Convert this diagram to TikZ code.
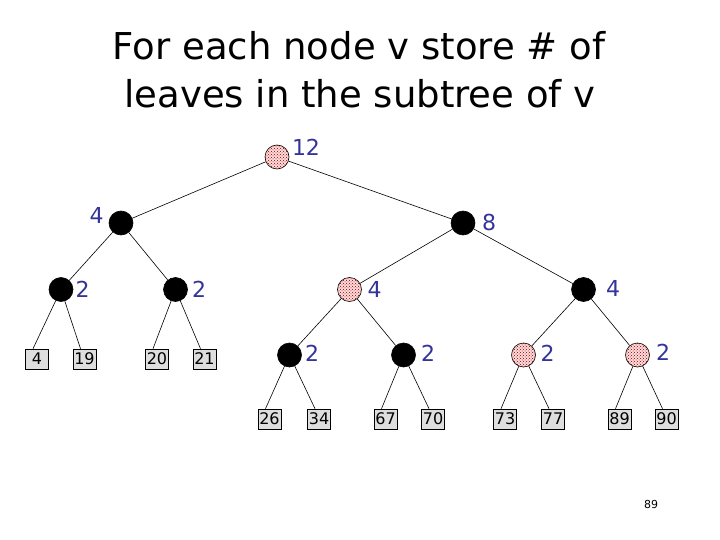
\documentclass[tikz,border=0pt]{standalone}
\usepackage{fontspec}
\setmainfont{DejaVu Sans}
\usetikzlibrary{patterns}
\definecolor{cntblue}{RGB}{51,51,153}

\begin{document}
\begin{tikzpicture}[x=1pt, y=-1pt, line width=0.6pt,
    inner/.style={circle, draw=black, fill=black, minimum size=24pt, inner sep=0pt},
    marked/.style={circle, draw=black, fill=red!14, pattern color=red!55!black,
      postaction={pattern=crosshatch dots}, minimum size=24pt, inner sep=0pt},
    leaf/.style={draw=black, fill=black!13, minimum width=23pt, minimum height=20pt,
      inner sep=0pt, font=\fontsize{16}{16}\selectfont},
    cnt/.style={text=cntblue, inner sep=0pt, font=\fontsize{22}{22}\selectfont},
    headline/.style={anchor=base, inner sep=0pt, font=\fontsize{37}{37}\selectfont},
  ]
  \useasboundingbox (0,0) rectangle (720,540);

  % title, two lines
  \node[headline] (title1) at (359,60) {For each node v store \# of};
  \node[headline] (title2) at (360,108) {leaves in the subtree of v};

  % internal nodes, top down
  \node[marked] (r) at (277,157) {};
  \node[inner] (a) at (121,223) {};
  \node[inner] (b) at (463,223) {};
  \node[inner] (aa) at (61,289.5) {};
  \node[inner] (ab) at (175.5,289.5) {};
  \node[marked] (ba) at (349.5,289.5) {};
  \node[inner] (bb) at (583.5,289.5) {};
  \node[inner] (baa) at (289.5,355) {};
  \node[inner] (bab) at (403.5,355) {};
  \node[marked] (bba) at (523.5,355) {};
  \node[marked] (bbb) at (637.5,355) {};

  % leaf counts
  \node[cnt] (nr) at (306,147) {12};
  \node[cnt] (na) at (96.5,215) {4};
  \node[cnt] (nb) at (489,222) {8};
  \node[cnt] (naa) at (82.5,289) {2};
  \node[cnt] (nab) at (199,289) {2};
  \node[cnt] (nba) at (374.5,289) {4};
  \node[cnt] (nbb) at (613,288) {4};
  \node[cnt] (nbaa) at (312,353) {2};
  \node[cnt] (nbab) at (428,353) {2};
  \node[cnt] (nbba) at (547.5,353) {2};
  \node[cnt] (nbbb) at (663,352) {2};

  % leaves
  \node[leaf] (l4) at (37,359) {4};
  \node[leaf] (l19) at (84.5,359) {19};
  \node[leaf] (l20) at (157,359) {20};
  \node[leaf] (l21) at (204.5,359) {21};
  \node[leaf] (l26) at (269.5,419) {26};
  \node[leaf] (l34) at (319,419) {34};
  \node[leaf] (l67) at (385.5,419) {67};
  \node[leaf] (l70) at (433,419) {70};
  \node[leaf] (l73) at (505,419) {73};
  \node[leaf] (l77) at (553,419) {77};
  \node[leaf] (l89) at (619.5,419) {89};
  \node[leaf] (l90) at (666.5,419) {90};

  % tree edges
  \draw (r) -- (a);
  \draw (r) -- (b);
  \draw (a) -- (aa);
  \draw (a) -- (ab);
  \draw (b) -- (ba);
  \draw (b) -- (bb);
  \draw (ba) -- (baa);
  \draw (ba) -- (bab);
  \draw (bb) -- (bba);
  \draw (bb) -- (bbb);
  \foreach \p/\l/\m in {aa/l4/l19, ab/l20/l21, baa/l26/l34, bab/l67/l70,
                        bba/l73/l77, bbb/l89/l90}
  {
    \draw (\p) -- ([xshift=-4pt]\l.north);
    \draw (\p) -- ([xshift=-4pt]\m.north);
  }

  % page number
  \node[font=\fontsize{11}{11}\selectfont] (page) at (651,504) {89};
\end{tikzpicture}
\end{document}
